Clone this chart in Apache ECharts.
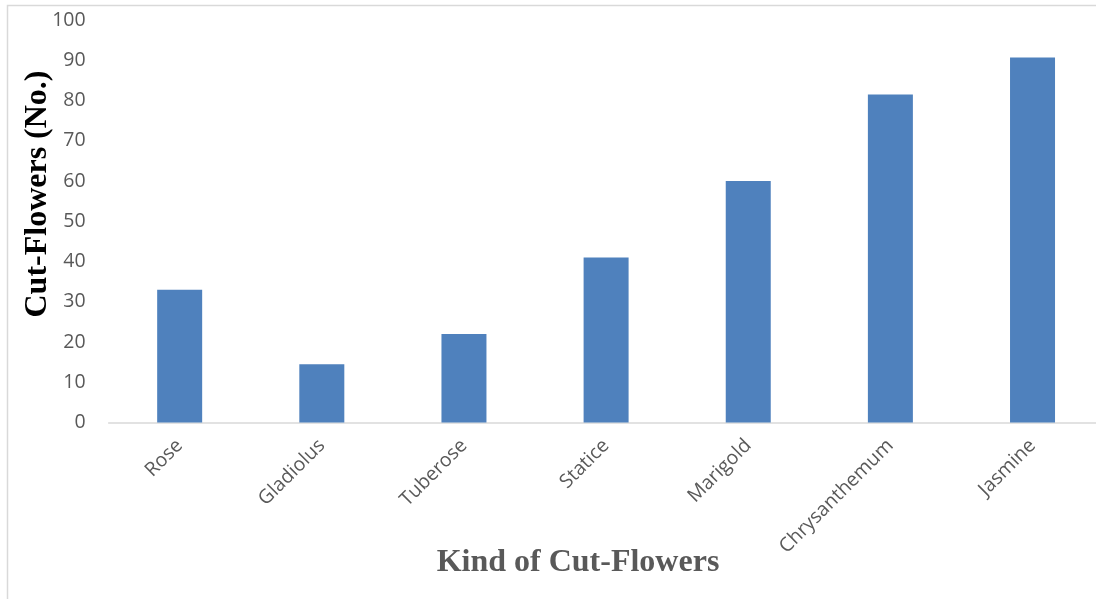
<!DOCTYPE html>
<html>
<head>
<meta charset="utf-8">
<script src="https://cdn.jsdelivr.net/npm/echarts@6/dist/echarts.min.js"></script>
<style>html,body{margin:0;padding:0;background:#fff;overflow:hidden;width:1096px;height:599px}#c{width:1110px;height:599px}</style>
</head>
<body>
<div id="c"></div>
<script>
const categories = ['Rose', 'Gladiolus', 'Tuberose', 'Statice', 'Marigold', 'Chrysanthemum', 'Jasmine'];
const values = [33, 14.5, 22, 41, 60, 81.5, 90.7];
const xTitle = 'Kind of Cut-Flowers';
const yTitle = 'Cut-Flowers (No.)';

const chart = echarts.init(document.getElementById('c'));
chart.setOption({
  animation: false,
  backgroundColor: '#fff',
  grid: { left: 108.6, width: 995, top: 20, height: 402.5, containLabel: false },
  xAxis: {
    type: 'category',
    data: categories,
    axisLine: { lineStyle: { color: '#d9d9d9', width: 1.5 } },
    axisTick: { show: false },
    axisLabel: { rotate: 45, color: '#595959', fontSize: 19.5, fontFamily: 'Open Sans', margin: 20, interval: 0 }
  },
  yAxis: {
    type: 'value', min: 0, max: 100, interval: 10,
    axisLine: { show: false }, axisTick: { show: false },
    splitLine: { show: false },
    axisLabel: { color: '#595959', fontSize: 19.5, fontFamily: 'Open Sans', margin: 23 }
  },
  series: [{
    type: 'bar', data: values, barWidth: 45,
    itemStyle: { color: '#4f81bd' }
  }],
  graphic: [
    { type: 'rect', z: -1, shape: { x: 7.5, y: 5.5, width: 1200, height: 700 }, style: { fill: null, stroke: '#d9d9d9', lineWidth: 1.5 } },
    { type: 'text', x: 578, y: 563, style: { text: xTitle, font: 'bold 32px "Liberation Serif"', fill: '#595959', align: 'center', verticalAlign: 'middle' } },
    { type: 'text', x: 38, y: 194, rotation: Math.PI / 2, style: { text: yTitle, font: 'bold 32px "Liberation Serif"', fill: '#000', align: 'center', verticalAlign: 'middle' } }
  ]
});
</script>
</body>
</html>
